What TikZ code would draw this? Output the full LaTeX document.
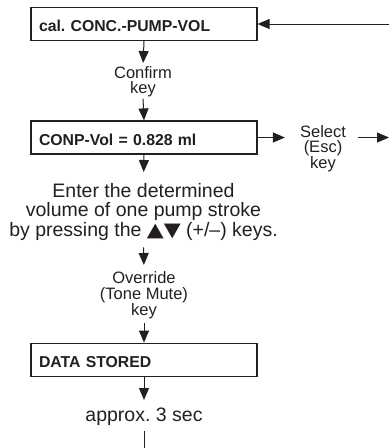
\documentclass[tikz,border=0pt]{standalone}
\usepackage{fontspec}
\usepackage{graphicx}
\setmainfont{Liberation Sans}
\newfontfamily\symfont{DejaVu Sans}
\frenchspacing
\usetikzlibrary{arrows.meta}
\definecolor{ink}{HTML}{231F20}
\newcommand{\updown}{{\symfont\fontsize{22}{22}\selectfont\scalebox{1}[0.88]{▲▼}}}
\tikzset{
  boxnode/.style={draw=ink, line width=1.2pt, text=ink, font=\bfseries\fontsize{15.8}{16}\selectfont,
    text width=210pt, inner xsep=8pt, align=left, minimum height=33pt,
    text height=15.4pt, text depth=0pt},
  smalllabel/.style={text=ink, font=\fontsize{16.5}{15.8}\selectfont, align=center, inner sep=0pt},
  biglabel/.style={text=ink, font=\fontsize{19.5}{19.2}\selectfont, align=center, inner sep=0pt},
  arr/.style={draw=ink, line width=1pt, -{Triangle[length=12pt,width=10pt]}},
  plain/.style={draw=ink, line width=1pt}
}
\begin{document}
\begin{tikzpicture}[x=1pt,y=-1pt]
\useasboundingbox (0,0) rectangle (389,448);
\node[boxnode] (b1) at (144,24) {cal. CONC.-PUMP-VOL};
\coordinate (in) at (389,24);
\node[smalllabel, anchor=north] (conf) at (143,66) {Confirm\\key};
\node[boxnode] (b2) at (144,137.5) {CONP-Vol = 0.828 ml};
\node[smalllabel, anchor=north] (sel) at (323,125) {Select\\(Esc)\\key};
\coordinate (out) at (389,137.5);
\node[biglabel, anchor=north] (enter) at (143.5,183.3) {Enter the determined\\volume of one pump stroke\\by pressing the \updown\ (+/–) keys.};
\node[smalllabel, anchor=north] (ovr) at (144,271.7) {Override\\(Tone Mute)\\key};
\node[boxnode] (b3) at (144,359.7) {DATA STORED};
\node[biglabel, anchor=north] (appr) at (144,408) {approx. 3 sec};
\coordinate (end) at (144,448);

\draw[arr] (in) -- (b1.east);
\draw[arr, shorten >=3pt] (b1.south) -- (conf.north);
\draw[arr, shorten <=1pt] (conf.south) -- (b2.north);
\draw[arr, shorten >=15pt] (b2.east) -- (b2.east -| sel.west);
\draw[arr, shorten <=12pt] (sel.east |- b2.east) -- (out);
\draw[arr, shorten >=11.3pt] (b2.south) -- (enter.north);
\draw[arr, shorten <=7pt, shorten >=6.7pt] (enter.south) -- (ovr.north);
\draw[arr, shorten <=4.3pt] (ovr.south) -- (b3.north);
\draw[arr, shorten >=8pt] (b3.south) -- (appr.north);
\draw[plain, shorten <=5pt] (appr.south) -- (end);
\end{tikzpicture}
\end{document}
